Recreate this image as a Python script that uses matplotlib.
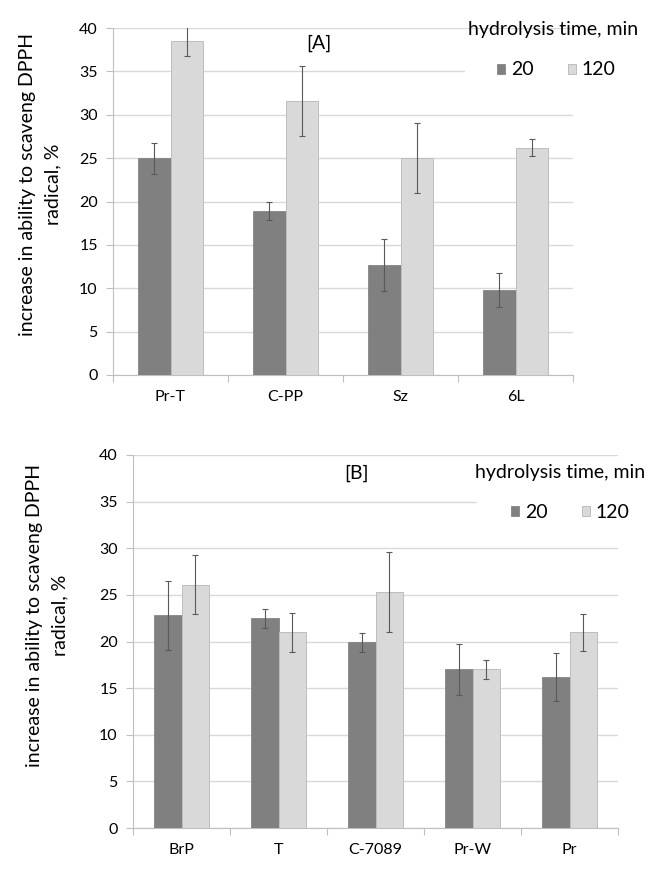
import matplotlib
matplotlib.use("Agg")
import matplotlib.pyplot as plt
from matplotlib.patches import Rectangle
import numpy as np

plt.rcParams['font.family'] = ['Lato', 'DejaVu Sans']

# Panel A data
cats_a = ["Pr-T", "C-PP", "Sz", "6L"]
a20 = [25.0, 18.9, 12.7, 9.8]
a20_err = [1.8, 1.0, 3.0, 2.0]
a120 = [38.5, 31.6, 25.0, 26.2]
a120_err = [1.7, 4.0, 4.0, 1.0]

# Panel B data
cats_b = ["BrP", "T", "C-7089", "Pr-W", "Pr"]
b20 = [22.8, 22.5, 19.9, 17.0, 16.2]
b20_err = [3.7, 1.0, 1.0, 2.7, 2.6]
b120 = [26.1, 21.0, 25.3, 17.0, 21.0]
b120_err = [3.2, 2.1, 4.3, 1.0, 2.0]

series_labels = ["20", "120"]
yticks = [0, 5, 10, 15, 20, 25, 30, 35, 40]
legend_title = "hydrolysis time, min"
ylabel = "increase in ability to scaveng DPPH\nradical, %"

DARK = "#808080"
LIGHT = "#d9d9d9"
GRID = "#d9d9d9"
AXC = "#bfbfbf"

fig = plt.figure(figsize=(6.66, 8.85), dpi=100)
W, H = 666, 885

def px_axes(l, r, t, b):
    return fig.add_axes([l / W, 1 - b / H, (r - l) / W, (b - t) / H])

def draw(ax, cats, v20, e20, v120, e120, tag, tag_xy, label_xy,
         title_xy, leg_xy, mask):
    n = len(cats)
    x = np.arange(n)
    w = 0.285
    ekw = dict(ecolor="#595959", elinewidth=0.8, capsize=2, capthick=0.8)
    ax.bar(x - w / 2, v20, w, color=DARK, edgecolor="#7a7a7a", linewidth=0.5,
           yerr=e20, error_kw=ekw, label=series_labels[0], zorder=3)
    ax.bar(x + w / 2, v120, w, color=LIGHT, edgecolor="#bdbdbd", linewidth=0.7,
           yerr=e120, error_kw=ekw, label=series_labels[1], zorder=3)
    ax.set_xlim(-0.5, n - 0.5)
    ax.set_ylim(0, 40)
    ax.set_yticks(yticks)
    ax.set_xticks(x)
    ax.set_xticklabels(cats, fontsize=11.5)
    ax.set_xticks(np.arange(n + 1) - 0.5, minor=True)
    ax.tick_params(axis="x", which="major", length=0, pad=11)
    ax.tick_params(axis="x", which="minor", length=5, color=AXC, width=0.8)
    ax.tick_params(axis="y", length=5, color=AXC, width=0.8, labelsize=11.5, pad=6)
    ax.yaxis.grid(True, color=GRID, linewidth=1.0, zorder=0)
    ax.set_axisbelow(True)
    for s in ["top", "right"]:
        ax.spines[s].set_visible(False)
    ax.spines["left"].set_color(AXC)
    ax.spines["bottom"].set_color(AXC)
    ax.set_ylabel(ylabel, fontsize=14, linespacing=1.55)
    ax.yaxis.set_label_coords(*label_xy)
    ax.text(tag_xy[0], tag_xy[1], tag, transform=ax.transAxes, fontsize=14,
            ha="center", va="center")
    # white band behind the legend hiding the gridline
    ax.add_patch(Rectangle((mask[0], mask[1]), mask[2], mask[3], transform=ax.transAxes,
                           facecolor="white", edgecolor="none", zorder=2, clip_on=False))
    ax.text(title_xy[0], title_xy[1], legend_title, transform=ax.transAxes,
            fontsize=14, ha="left", va="center", zorder=6)
    leg = ax.legend(loc="center left", bbox_to_anchor=leg_xy, ncol=2, fontsize=14,
                    frameon=False, handlelength=0.42, handleheight=0.42,
                    handletextpad=0.3, columnspacing=1.75, borderpad=0,
                    borderaxespad=0)
    leg.set_zorder(5)
    return leg

axA = px_axes(113, 573, 28, 375)
draw(axA, cats_a, a20, a20_err, a120, a120_err, "[A]",
     tag_xy=(0.448, 0.955), label_xy=(-0.113, 0.55),
     title_xy=(0.772, 0.995), leg_xy=(0.835, 0.879),
     mask=(0.765, 0.82, 0.3, 0.115))

axB = px_axes(133, 618, 455, 828)
draw(axB, cats_b, b20, b20_err, b120, b120_err, "[B]",
     tag_xy=(0.46, 0.95), label_xy=(-0.134, 0.57),
     title_xy=(0.706, 0.952), leg_xy=(0.78, 0.847),
     mask=(0.709, 0.80, 0.3, 0.11))

fig.savefig("out.png", dpi=100)
